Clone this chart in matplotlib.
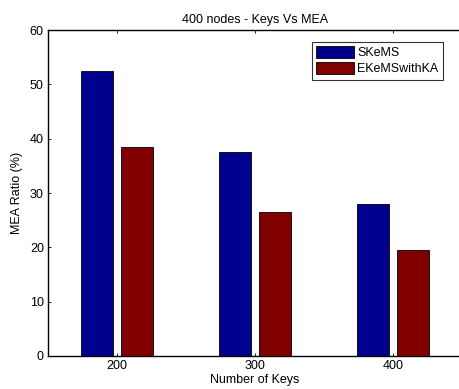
import matplotlib
matplotlib.use("Agg")
import matplotlib.pyplot as plt
import numpy as np

plt.rcParams['font.family'] = ['Liberation Sans', 'DejaVu Sans']

categories = [200, 300, 400]
skems = [52.5, 37.6, 27.9]
ekems = [38.4, 26.5, 19.5]
series_names = ["SKeMS", "EKeMSwithKA"]
title = "400 nodes - Keys Vs MEA"

fs = 9
fig = plt.figure(figsize=(4.59, 3.89), dpi=100)
ax = fig.add_axes([48/459, 1-356/389, (462-48)/459, (356-30)/389])
x = np.array(categories, dtype=float)
w = 23
ax.bar(x - 14.5, skems, width=w, color='#00008F', edgecolor='black', linewidth=0.6, label=series_names[0])
ax.bar(x + 14.5, ekems, width=w, color='#800000', edgecolor='black', linewidth=0.6, label=series_names[1])
ax.set_xlim(150, 450)
ax.set_ylim(0, 60)
ax.set_xticks(categories)
ax.set_yticks(range(0, 61, 10))
ax.tick_params(direction='in', length=2.5, width=0.6, labelsize=fs, top=True, right=True, pad=3)
for s in ax.spines.values():
    s.set_linewidth(1.0)
ax.set_title(title, fontsize=fs, pad=5)
ax.set_xlabel("Number of Keys", fontsize=fs, labelpad=1)
ax.set_ylabel("MEA Ratio (%)", fontsize=fs, labelpad=5)
leg = ax.legend(loc='upper right', bbox_to_anchor=((443-48)/414, 1-(42-30)/326), fontsize=fs,
                frameon=True, fancybox=False, edgecolor='black', handlelength=3.0, handleheight=1.0,
                borderpad=0.35, labelspacing=0.25, handletextpad=0.3, borderaxespad=0)
leg.get_frame().set_linewidth(0.8)
fig.savefig("out.png", dpi=100)
